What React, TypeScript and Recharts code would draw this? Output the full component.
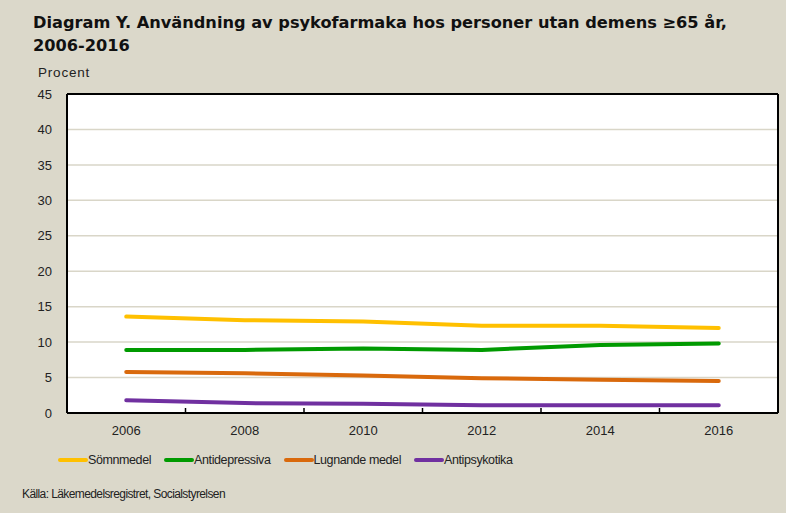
import { LineChart, Line, XAxis, YAxis, CartesianGrid } from "recharts";

const YEARS = ["2006", "2008", "2010", "2012", "2014", "2016"];
const SOMNMEDEL = [13.6, 13.1, 12.9, 12.3, 12.3, 12.0];
const ANTIDEPRESSIVA = [8.9, 8.9, 9.1, 8.9, 9.6, 9.8];
const LUGNANDE = [5.8, 5.6, 5.3, 4.9, 4.7, 4.5];
const ANTIPSYKOTIKA = [1.8, 1.4, 1.3, 1.1, 1.1, 1.1];
const Y_TICKS = [0, 5, 10, 15, 20, 25, 30, 35, 40, 45];

const SERIES = [
    { key: "somn", name: "Sömnmedel", color: "#ffc000", values: SOMNMEDEL },
    { key: "anti", name: "Antidepressiva", color: "#009a00", values: ANTIDEPRESSIVA },
    { key: "lugn", name: "Lugnande medel", color: "#d9690c", values: LUGNANDE },
    { key: "psyk", name: "Antipsykotika", color: "#7030a0", values: ANTIPSYKOTIKA },
];

const data = YEARS.map((year, i) => {
    const row: Record<string, string | number> = { year };
    SERIES.forEach((s) => (row[s.key] = s.values[i]));
    return row;
});

const FONT = "'Liberation Sans', Arial, sans-serif";
const TITLE_FONT = "'DejaVu Sans', sans-serif";
const BG = "#dbd8ca";
const W = 786;
const MARGIN = { top: 94, right: 8, left: 0, bottom: 0 };
const Y_WIDTH = 67;
const BAND = (W - MARGIN.left - MARGIN.right - Y_WIDTH) / YEARS.length;

function XTick(props: any) {
    const { x, y, payload, index } = props;
    const axisY = y - 13;
    return (
        <g>
            {index < YEARS.length - 1 && (
                <line
                    x1={x + BAND / 2}
                    x2={x + BAND / 2}
                    y1={axisY}
                    y2={axisY - 5}
                    stroke="#000"
                    strokeWidth={1.5}
                />
            )}
            <text
                x={x}
                y={y}
                dy="0.71em"
                textAnchor="middle"
                fill="#222"
                fontSize={13}
                fontFamily={FONT}
            >
                {payload.value}
            </text>
        </g>
    );
}

export default function App() {
    return (
        <div
            style={{
                position: "absolute",
                left: 0,
                top: 0,
                width: W,
                height: 513,
                background: BG,
                fontFamily: FONT,
                color: "#111",
            }}
        >
            <div
                style={{
                    position: "absolute",
                    left: 33,
                    top: 11,
                    fontSize: 16.2,
                    fontFamily: TITLE_FONT,
                    fontWeight: "bold",
                    lineHeight: "23px",
                }}
            >
                Diagram Y. Användning av psykofarmaka hos personer utan demens ≥65 år,
                <br />
                2006-2016
            </div>
            <div
                style={{
                    position: "absolute",
                    left: 38,
                    top: 65,
                    fontSize: 13.5,
                    letterSpacing: 0.8,
                    color: "#222",
                }}
            >
                Procent
            </div>

            <LineChart
                width={W}
                height={445}
                data={data}
                margin={MARGIN}
                style={{ position: "absolute", left: 0, top: 0 }}
            >
                <CartesianGrid
                    vertical={false}
                    stroke="#d9d6c8"
                    strokeWidth={1.5}
                    fill="#fff"
                    fillOpacity={1}
                />
                <CartesianGrid
                    stroke="#000"
                    strokeWidth={2}
                    horizontalCoordinatesGenerator={({ offset }: any) => [offset.top]}
                    verticalCoordinatesGenerator={({ offset }: any) => [
                        offset.left + offset.width,
                    ]}
                />
                <XAxis
                    dataKey="year"
                    scale="band"
                    axisLine={{ stroke: "#000", strokeWidth: 2 }}
                    tickLine={false}
                    tickSize={6}
                    tickMargin={7}
                    tick={<XTick />}
                    height={32}
                    interval={0}
                />
                <YAxis
                    domain={[0, 45]}
                    ticks={Y_TICKS}
                    width={Y_WIDTH}
                    axisLine={{ stroke: "#000", strokeWidth: 2 }}
                    tickLine={false}
                    tickMargin={9}
                    tick={{ fill: "#222", fontSize: 13, fontFamily: FONT }}
                    interval={0}
                />
                {SERIES.map((s) => (
                    <Line
                        key={s.key}
                        dataKey={s.key}
                        name={s.name}
                        stroke={s.color}
                        strokeWidth={4}
                        strokeLinecap="round"
                        dot={false}
                        type="linear"
                        isAnimationActive={false}
                    />
                ))}
            </LineChart>

            <div
                style={{
                    position: "absolute",
                    left: 58,
                    top: 453,
                    display: "flex",
                    fontSize: 12.5,
                    letterSpacing: -0.4,
                    color: "#222",
                }}
            >
                {SERIES.map((s) => (
                    <div
                        key={s.key}
                        style={{ display: "flex", alignItems: "center", marginRight: 13 }}
                    >
                        <span
                            style={{
                                display: "inline-block",
                                width: 30,
                                height: 4,
                                borderRadius: 2,
                                background: s.color,
                            }}
                        />
                        <span>{s.name}</span>
                    </div>
                ))}
            </div>
            <div
                style={{
                    position: "absolute",
                    left: 22,
                    top: 487,
                    fontSize: 12,
                    letterSpacing: -0.6,
                    color: "#222",
                }}
            >
                Källa: Läkemedelsregistret, Socialstyrelsen
            </div>
        </div>
    );
}
